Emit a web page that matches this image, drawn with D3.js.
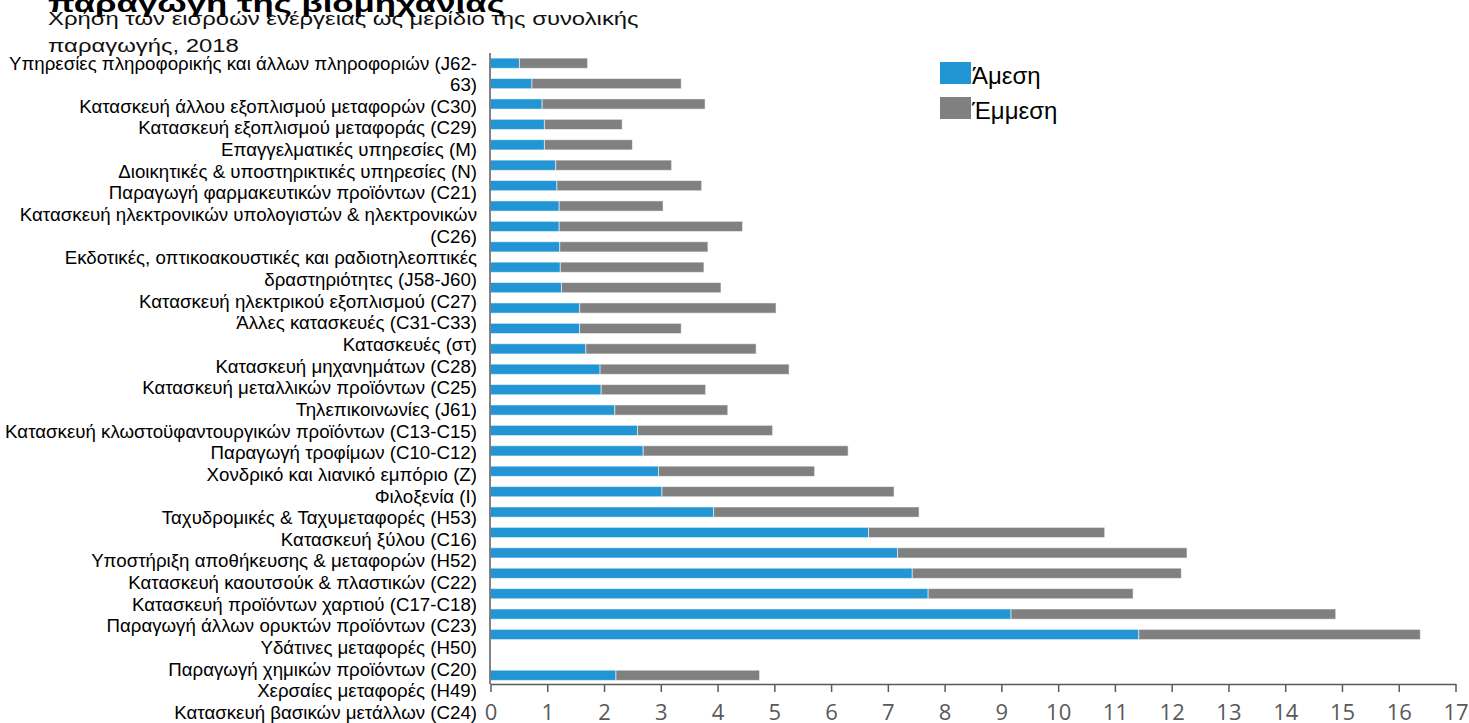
<!DOCTYPE html>
<html>
<head>
<meta charset="utf-8">
<script src="https://cdn.jsdelivr.net/npm/d3@7"></script>
<style>
  html, body { margin: 0; padding: 0; background: #ffffff; }
  svg { display: block; }
</style>
</head>
<body>
<div id="chart"></div>
<script>
// ---------------- data ----------------
const titleBold = "παραγωγή της βιομηχανίας";
const subtitleLines = ["Χρήση των εισροών ενέργειας ως μερίδιο της συνολικής", "παραγωγής, 2018"];

// category labels (left column, as printed; "\n" marks a wrapped line)
const categories = [
  "Υπηρεσίες πληροφορικής και άλλων πληροφοριών (J62-\n63)",
  "Κατασκευή άλλου εξοπλισμού μεταφορών (C30)",
  "Κατασκευή εξοπλισμού μεταφοράς (C29)",
  "Επαγγελματικές υπηρεσίες (M)",
  "Διοικητικές & υποστηρικτικές υπηρεσίες (N)",
  "Παραγωγή φαρμακευτικών προϊόντων (C21)",
  "Κατασκευή ηλεκτρονικών υπολογιστών & ηλεκτρονικών\n(C26)",
  "Εκδοτικές, οπτικοακουστικές και ραδιοτηλεοπτικές\nδραστηριότητες (J58-J60)",
  "Κατασκευή ηλεκτρικού εξοπλισμού (C27)",
  "Άλλες κατασκευές (C31-C33)",
  "Κατασκευές (στ)",
  "Κατασκευή μηχανημάτων (C28)",
  "Κατασκευή μεταλλικών προϊόντων (C25)",
  "Τηλεπικοινωνίες (J61)",
  "Κατασκευή κλωστοϋφαντουργικών προϊόντων (C13-C15)",
  "Παραγωγή τροφίμων (C10-C12)",
  "Χονδρικό και λιανικό εμπόριο (Z)",
  "Φιλοξενία (I)",
  "Ταχυδρομικές & Ταχυμεταφορές (H53)",
  "Κατασκευή ξύλου (C16)",
  "Υποστήριξη αποθήκευσης & μεταφορών (H52)",
  "Κατασκευή καουτσούκ & πλαστικών (C22)",
  "Κατασκευή προϊόντων χαρτιού (C17-C18)",
  "Παραγωγή άλλων ορυκτών προϊόντων (C23)",
  "Υδάτινες μεταφορές (H50)",
  "Παραγωγή χημικών προϊόντων (C20)",
  "Χερσαίες μεταφορές (H49)",
  "Κατασκευή βασικών μετάλλων (C24)"
];

// bar rows as drawn, top to bottom (null = empty row)
const seriesNames = ["Άμεση", "Έμμεση"];
const direct   = [0.51, 0.73, 0.91, 0.95, 0.95, 1.15, 1.17, 1.21, 1.21, 1.22, 1.23, 1.25, 1.57, 1.57, 1.68, 1.93,
                  1.95, 2.19, 2.59, 2.69, 2.96, 3.02, 3.93, 6.66, 7.17, 7.43, 7.71, 9.17, 11.42, null, 2.21];
const indirect = [1.20, 2.63, 2.87, 1.37, 1.55, 2.04, 2.55, 1.83, 3.23, 2.61, 2.53, 2.81, 3.46, 1.79, 3.00, 3.33,
                  1.84, 1.99, 2.38, 3.61, 2.75, 4.09, 3.62, 4.16, 5.10, 4.74, 3.61, 5.72, 4.96, null, 2.53];
const xTicks = d3.range(0, 18);

// ---------------- layout ----------------
const W = 1469, H = 723;
const colors = ["#2295d4", "#808080"];
const axisColor = "#5a5a5a";
const sans = "'Liberation Sans', Arial, sans-serif";

const svg = d3.select("#chart").append("svg")
  .attr("width", W).attr("height", H)
  .attr("viewBox", `0 0 ${W} ${H}`);
svg.append("rect").attr("width", W).attr("height", H).attr("fill", "#fff");

const x = d3.scaleLinear().domain([0, 17]).range([490.5, 1455.5]);
const rows = d3.range(direct.length);
const y = d3.scaleBand().domain(rows).range([53, 685.5]).paddingInner(0.5).paddingOuter(0.25);

// stacked data
const table = rows.map(i => ({ row: i, "Άμεση": direct[i] || 0, "Έμμεση": indirect[i] || 0 }));
const stack = d3.stack().keys(seriesNames)(table);

const gBars = svg.append("g");
gBars.selectAll("g.series").data(stack).join("g")
  .attr("class", "series")
  .attr("fill", (d, i) => colors[i])
  .selectAll("rect").data(d => d.filter(s => s[1] > s[0])).join("rect")
  .attr("x", d => x(d[0]))
  .attr("y", d => y(d.data.row))
  .attr("width", d => x(d[1]) - x(d[0]))
  .attr("height", y.bandwidth())
  .attr("stroke", "#ffffff")
  .attr("stroke-opacity", 0.55)
  .attr("stroke-width", 1);

// x axis
const xAxis = d3.axisBottom(x).tickValues(xTicks).tickFormat(d3.format("d"))
  .tickSize(8).tickSizeOuter(0).tickPadding(12);
const gx = svg.append("g").attr("transform", `translate(0,684)`).call(xAxis);
gx.select(".domain").attr("stroke", axisColor).attr("stroke-width", 1.5);
gx.selectAll(".tick line").attr("stroke", axisColor).attr("stroke-width", 1.5);
gx.selectAll(".tick text").attr("fill", "#595959")
  .style("font-family", "'Open Sans', 'Noto Sans', sans-serif").style("font-size", "22px");

// vertical axis line
svg.append("line")
  .attr("x1", x(0) - 0.5).attr("x2", x(0) - 0.5)
  .attr("y1", 53).attr("y2", 684)
  .attr("stroke", axisColor).attr("stroke-width", 1.5);

// category labels (line by line)
const labelLines = [];
categories.forEach(c => c.split("\n").forEach(l => labelLines.push(l)));
const yl = d3.scaleLinear().domain([0, labelLines.length - 1]).range([69.5, 719]);
svg.append("g").selectAll("text").data(labelLines).join("text")
  .attr("x", 477)
  .attr("y", (d, i) => yl(i))
  .attr("text-anchor", "end")
  .attr("fill", "#000")
  .style("font-family", sans)
  .style("font-size", "18.7px")
  .text(d => d);

// title and subtitle (horizontally stretched as in the source image)
svg.append("text")
  .attr("transform", "translate(48,12) scale(1.45,1)")
  .style("font-family", sans)
  .style("font-size", "24px").style("font-weight", "bold")
  .attr("fill", "#000").text(titleBold);
svg.append("g").selectAll("text").data(subtitleLines).join("text")
  .attr("transform", (d, i) => `translate(48,${25 + i * 27}) scale(1.29,1)`)
  .style("font-family", sans)
  .style("font-size", "18.5px")
  .attr("fill", "#111").text(d => d);

// legend
const leg = svg.append("g").attr("transform", "translate(940,62)");
const li = leg.selectAll("g").data(seriesNames).join("g")
  .attr("transform", (d, i) => `translate(0,${i * 35})`);
li.append("rect").attr("width", 31).attr("height", 22).attr("fill", (d, i) => colors[i]);
li.append("text").attr("x", 32).attr("y", 21.5)
  .style("font-family", sans)
  .style("font-size", "24px").attr("fill", "#000").text(d => d);
</script>
</body>
</html>
